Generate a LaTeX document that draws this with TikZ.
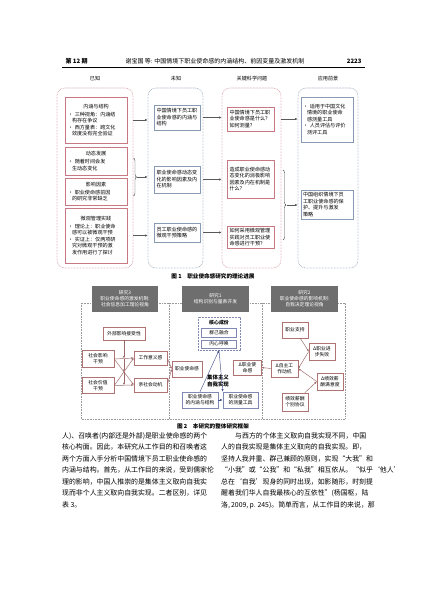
\documentclass[tikz,border=0pt]{standalone}
\usepackage{fontspec}
\setmainfont{Noto Sans CJK SC}
\usetikzlibrary{arrows.meta,calc,decorations.pathreplacing}
\XeTeXlinebreaklocale "zh"
\XeTeXlinebreakskip=0pt plus 3pt minus 0.8pt
\newcommand\jline[1]{\makebox[143pt][s]{#1}}
\definecolor{pk}{RGB}{200,120,130}
\definecolor{pkd}{RGB}{215,150,160}
\definecolor{gb}{RGB}{135,155,180}
\definecolor{gbd}{RGB}{150,165,185}
\definecolor{hdr}{RGB}{110,110,110}
\definecolor{brn}{RGB}{175,115,115}
\definecolor{nav}{RGB}{75,85,145}
\begin{document}
\begin{tikzpicture}[x=1pt,y=-1pt,
  f1/.style={font=\fontsize{5.1}{6.5}\selectfont},
  f2/.style={font=\fontsize{4.8}{6}\selectfont},
  fb/.style={font=\fontsize{6.9}{11.55}\selectfont},
  bx/.style={draw, fill=white, line width=0.5pt, f1, inner xsep=3pt, inner ysep=1pt, align=left},
  pbx/.style={bx, draw=pk},
  gbx/.style={bx, draw=gb},
  cont/.style={rounded corners=8pt, dash pattern=on 0.7pt off 0.8pt, line width=0.55pt, inner sep=0pt},
  arr/.style={draw=black!65, line width=0.4pt, -{Latex[length=2.6pt,width=2.2pt]}},
  brc/.style={draw=black!70, line width=0.4pt, decorate, decoration={brace, amplitude=3pt}},
  rb/.style={draw=brn, fill=white, line width=0.5pt, f2, align=center, inner sep=0.8pt},
  nb/.style={draw=nav!70, fill=white, line width=0.5pt, f2, align=center, inner sep=0.8pt},
  hd/.style={fill=hdr, text=white, f2, align=center, inner sep=0pt},
  rarr/.style={draw=brn!90!black, line width=0.45pt, -{Latex[length=2.4pt,width=2pt]}},
  narr/.style={draw=nav, line width=0.45pt, -{Latex[length=2.6pt,width=2.2pt]}},
  captxt/.style={font=\fontsize{5.6}{7}\selectfont\bfseries}
]
\useasboundingbox (0,0) rectangle (427,603);
\fill[white] (0,0) rectangle (427,603);

% ---------- page header ----------
\node[font=\fontsize{6}{7}\selectfont\bfseries, anchor=west] (hl) at (62,61) {第 12 期};
\node[font=\fontsize{6}{7}\selectfont] (hc) at (215,61) {谢宝国\ 等: 中国情境下职业使命感的内涵结构、前因变量及激发机制};
\node[font=\fontsize{6}{7}\selectfont\bfseries, anchor=east] (hr) at (365,61) {2223};
\draw[line width=0.8pt] (62,67) -- (365,67);

% ---------- Figure 1 ----------
\node[f1] (t1) at (95,79) {已知};
\node[f1] (t2) at (176,79) {未知};
\node[f1] (t3) at (252,79) {关键科学问题};
\node[f1] (t4) at (328,79) {应用前景};

\node[cont, draw=pkd, minimum width=76pt, minimum height=180pt] (c1) at (95,178) {};
\node[cont, draw=gbd, minimum width=55pt, minimum height=180pt] (c2) at (175.5,178) {};
\node[cont, draw=pkd, minimum width=59pt, minimum height=180pt] (c3) at (251.5,178) {};
\node[cont, draw=gbd, minimum width=60pt, minimum height=180pt] (c4) at (328,178) {};

\node[pbx, text width=56pt, minimum height=46pt] (a1) at (96,120) {\makebox[56pt]{内涵与结构}\\[1.5pt]
• 三种视角：内涵结\\\hspace*{4pt}构存在争议\\• 西方量表：跨文化\\\hspace*{4pt}效度没有完全验证};
\node[pbx, text width=56pt, minimum height=28pt] (a2) at (96,161) {\makebox[56pt]{动态发展}\\[1.5pt]
• 随着时间会发\\\hspace*{4pt}生动态变化};
\node[pbx, text width=56pt, minimum height=27pt] (a3) at (96,191.5) {\makebox[56pt]{影响因素}\\[1.5pt]
• 职业使命感前因\\\hspace*{4pt}的研究非常缺乏};
\node[pbx, text width=56pt, minimum height=55pt] (a4) at (96,235.5) {\makebox[56pt]{微观管理实践}\\[1.5pt]
• 理论上：职业使命\\\hspace*{4pt}感可以被微观干预\\• 实证上：仅两项研\\\hspace*{4pt}究对微观干预的激\\\hspace*{4pt}发作用进行了探讨};

\node[gbx, inner xsep=2pt, text width=42pt, minimum height=25pt] (u1) at (177.5,117.5) {中国情境下员工职\\业使命感的内涵与\\结构};
\node[gbx, inner xsep=2pt, text width=42pt, minimum height=27pt] (u2) at (177.5,179.5) {职业使命感动态变\\化的影响因素及内\\在机制};
\node[gbx, inner xsep=2pt, text width=42pt, minimum height=19pt] (u3) at (177.5,232.5) {员工职业使命感的\\微观干预策略};

\node[pbx, inner xsep=2pt, text width=43pt, minimum height=24pt] (k1) at (251,119) {中国情境下员工职\\业使命感是什么？\\如何测量？};
\node[pbx, inner xsep=2pt, text width=43pt, minimum height=38pt] (k2) at (251,179) {造成职业使命感动\\态变化的消极影响\\因素及内在机制是\\什么？};
\node[pbx, inner xsep=2pt, text width=43pt, minimum height=22pt] (k3) at (251,237.5) {如何采用微观管理\\实践对员工职业使\\命感进行干预？};

\node[gbx, inner xsep=2pt, text width=48pt, minimum height=45pt] (p1) at (327,119.5) {• 适用于中国文化\\\hspace*{4pt}情境的职业使命\\\hspace*{4pt}感测量工具\\• 人员评估与评价\\\hspace*{4pt}测评工具};
\node[gbx, inner xsep=2pt, text width=48pt, minimum height=29pt] (p2) at (327,204.5) {中国组织情境下员\\工职业使命感的保\\护、提升与激发\\策略};

\coordinate (br1a) at (133.5,158);
\coordinate (br1b) at (133.5,196);
\draw[brc] (br1a) -- (br1b);
\coordinate (br1t) at (137,177);
\coordinate (br3a) at (283,170);
\coordinate (br3b) at (283,240);
\draw[brc] (br3a) -- (br3b);
\coordinate (br3t) at (286.5,205);

\draw[arr] (c1.east |- a1) -- (c2.west |- a1);
\draw[arr] (br1t) -- (c2.west |- br1t);
\draw[arr] (c1.east |- a4) -- (c2.west |- a4);
\draw[arr] (c2.east |- u1) -- (c3.west |- u1);
\draw[arr] (c2.east |- u2) -- (c3.west |- u2);
\draw[arr] (c2.east |- u3) -- (c3.west |- u3);
\draw[arr] (c3.east |- k1) -- (c4.west |- k1);
\draw[arr] (br3t) -- (c4.west |- br3t);

\node[captxt] (cap1) at (213,276) {图 1\quad 职业使命感研究的理论进展};

% ---------- Figure 2 ----------
\draw[gray!80, dash pattern=on 0.7pt off 0.9pt, line width=0.5pt] (81,303) rectangle (345,419);
\draw[gray!80, dash pattern=on 0.7pt off 0.9pt, line width=0.5pt] (169,303) -- (169,419) (262,303) -- (262,419);

\node[hd, minimum width=66pt, minimum height=26pt] (h3) at (125,299) {研究3\\职业使命感的激发机制:\\社会信息加工理论视角};
\node[hd, minimum width=67pt, minimum height=26pt] (h1) at (215.5,299) {研究1\\结构识别与量表开发};
\node[hd, minimum width=67pt, minimum height=26pt] (h2) at (304.5,299) {研究2\\职业使命感的影响机制:\\自我决定理论视角};

% left column
\node[rb, minimum width=42pt, minimum height=13pt] (ext) at (124,333.5) {外部影响接受性};
\node[rb, minimum width=32pt, minimum height=17pt] (si) at (98,359) {社会影响\\干预};
\node[rb, minimum width=32pt, minimum height=16pt] (sv) at (98,385.5) {社会价值\\干预};
\node[rb, minimum width=33pt, minimum height=14pt] (wm) at (150.5,358) {工作意义感};
\node[rb, minimum width=33pt, minimum height=14pt] (ps) at (150.5,385) {亲社会动机};
\node[rb, minimum width=30pt, minimum height=16pt] (cs) at (187,369) {职业使命感};

\draw[rarr] (si.east) -- (wm.west);
\draw[rarr] (si.east) -- (ps.west);
\draw[rarr] (sv.east) -- (wm.west);
\draw[rarr] (sv.east) -- (ps.west);
\coordinate (m1) at ($(si.east)!0.5!(wm.west)$);
\coordinate (m2) at ($(si.east)!0.5!(ps.west)$);
\coordinate (m3) at ($(sv.east)!0.5!(ps.west)$);
\draw[rarr] (ext.south) -- (ext.south |- m1);
\draw[rarr] (ext.south |- m1) -- (ext.south |- m2);
\draw[rarr] (ext.south |- m2) -- (ext.south |- m3);
\draw[rarr] (wm.east) -- (cs.west);
\draw[rarr] (ps.east) -- (cs.west);

% middle column
\node[draw=nav!70, dash pattern=on 0.7pt off 0.8pt, line width=0.5pt, minimum width=42pt, minimum height=33pt, inner sep=0pt] (core) at (219,333.5) {};
\node[font=\fontsize{4.9}{6}\selectfont\bfseries] (coret) at (219,322.5) {核心成份};
\node[nb, minimum width=35pt, minimum height=9pt] (g1) at (219,332.5) {群己融合};
\node[nb, minimum width=35pt, minimum height=8.5pt] (g2) at (219,344) {内心呼唤};
\node[nb, minimum width=36pt, minimum height=16pt] (lb) at (200,400) {职业使命感\\的内涵与结构};
\node[nb, minimum width=35pt, minimum height=16pt] (rbx) at (240.5,400) {职业使命感\\的测量工具};
\node[font=\fontsize{5.4}{6.6}\selectfont\bfseries, align=center] (cself) at (218,381) {集体主义\\自我实现};
\draw[narr] (lb.north) -- (core.south);
\draw[narr] (core.south) -- (rbx.north west);
\draw[narr] (lb.east) -- (rbx.west);

% right column
\node[rb, minimum width=26pt, minimum height=16pt] (sup) at (295,330) {职业支持};
\node[rb, minimum width=26pt, minimum height=17pt] (dcf) at (322,351.5) {Δ职业进\\步失败};
\node[rb, minimum width=27pt, minimum height=17pt] (dam) at (284.5,368.5) {Δ自主工\\作动机};
\node[rb, minimum width=28pt, minimum height=15pt] (dcs) at (247.5,367.5) {Δ职业使\\命感};
\node[rb, minimum width=26pt, minimum height=17pt] (dps) at (330,381.5) {Δ绩效薪\\酬满意度};
\node[rb, minimum width=26pt, minimum height=18pt] (ipd) at (295,402) {绩效薪酬\\个别协议};
\draw[rarr] (sup) -- (dcf.west);
\draw[rarr] (dcf.west) -- (dam.east);
\draw[rarr] (dps.west) -- (dam.east);
\draw[rarr] (ipd) -- (dps.west);
\draw[rarr] (dam.west) -- (dcs.east);

\node[captxt] (cap2) at (213,426) {图 2\quad 本研究的整体研究框架};

% ---------- body text ----------
\node[fb, anchor=north west, align=left, inner sep=0pt] (bodyl) at (62,432) {\jline{人)、召唤者(内部还是外部)是职业使命感的两个}\\
\jline{核心构面。因此，本研究从工作目的和召唤者这}\\
\jline{两个方面入手分析中国情境下员工职业使命感的}\\
\jline{内涵与结构。首先，从工作目的来说，受到儒家伦}\\
\jline{理的影响，中国人推崇的是集体主义取向自我实}\\
\jline{现而非个人主义取向自我实现。二者区别，详见}\\
表 3。};
\node[fb, anchor=north west, align=left, inner sep=0pt] (bodyr) at (221,432) {\hspace*{14pt}\makebox[129pt][s]{与西方的个体主义取向自我实现不同，中国}\\
\jline{人的自我实现是集体主义取向的自我实现。即，}\\
\jline{坚持人我并重、群己兼顾的原则，实现“大我”和}\\
\jline{“小我”或“公我”和“私我”相互依从。“似乎‘他人’}\\
\jline{总在‘自我’现身的同时出现，如影随形，时刻提}\\
\jline{醒着我们华人自我最核心的互依性”(杨国枢，陆}\\
\jline{洛, 2009, p. 245)。简单而言，从工作目的来说，那}};
\end{tikzpicture}
\end{document}
